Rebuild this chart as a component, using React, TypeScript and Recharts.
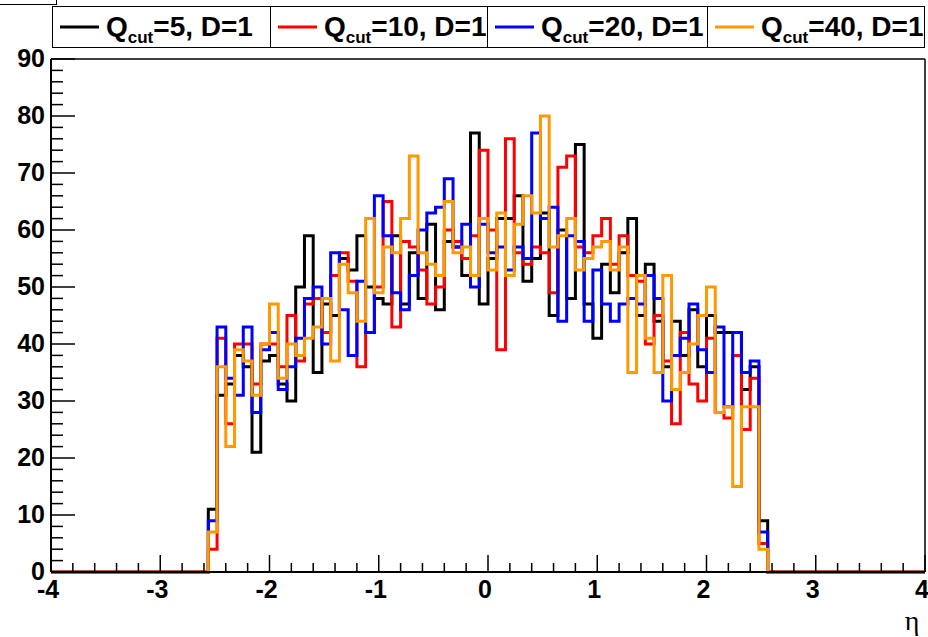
import { LineChart, Line, XAxis, YAxis, ReferenceLine } from "recharts"

// histogram binning: 64 filled bins of width 0.08 between -2.56 and 2.56
const binStart = -2.56
const binWidth = 0.08

const qcut5 = [
  11, 31, 33, 38, 36, 21, 37, 38, 33, 30, 50,
  59, 35, 47, 45, 55, 53, 59, 50, 48, 47, 59,
  47, 56, 48, 61, 46, 58, 57, 52, 77, 47, 55,
  62, 62, 66, 51, 55, 63, 45, 60, 48, 75, 47,
  41, 54, 49, 56, 62, 45, 54, 44, 36, 44, 38,
  46, 36, 45, 42, 42, 42, 32, 36, 9,
]
const qcut10 = [
  4, 41, 26, 40, 40, 33, 40, 40, 36, 45, 37,
  47, 48, 42, 52, 56, 51, 36, 42, 50, 65, 43,
  58, 57, 53, 47, 50, 60, 58, 55, 59, 74, 60,
  39, 76, 56, 54, 57, 56, 49, 71, 73, 57, 56,
  59, 62, 54, 59, 52, 51, 40, 45, 37, 26, 42,
  33, 30, 41, 28, 27, 38, 25, 34, 5,
]
const qcut20 = [
  9, 43, 34, 31, 43, 28, 39, 42, 32, 36, 41,
  48, 50, 40, 56, 46, 38, 51, 42, 66, 59, 49,
  46, 52, 60, 63, 64, 69, 57, 61, 50, 61, 56,
  57, 53, 57, 55, 77, 62, 64, 44, 59, 58, 44,
  53, 47, 44, 47, 48, 47, 52, 48, 30, 38, 41,
  47, 39, 35, 43, 29, 42, 35, 37, 7,
]
const qcut40 = [
  7, 36, 22, 39, 37, 31, 40, 47, 34, 40, 38,
  41, 43, 48, 37, 54, 49, 44, 62, 49, 57, 56,
  62, 73, 56, 54, 52, 65, 56, 57, 52, 62, 53,
  63, 52, 61, 66, 63, 80, 57, 59, 62, 53, 55,
  57, 58, 53, 57, 35, 52, 41, 35, 52, 32, 35,
  40, 45, 50, 28, 29, 15, 29, 29, 4,
]

const xTicks = Array.from({ length: 41 }, (_, i) => Math.round((-4 + i * 0.2) * 10) / 10)
const yTicks = Array.from({ length: 46 }, (_, i) => i * 2)

const series = [
  { key: "q5", text: "=5, D=1", color: "#000000", values: qcut5 },
  { key: "q10", text: "=10, D=1", color: "#ff0000", values: qcut10 },
  { key: "q20", text: "=20, D=1", color: "#0000ff", values: qcut20 },
  { key: "q40", text: "=40, D=1", color: "#ff9900", values: qcut40 },
]

const zeros = { q5: 0, q10: 0, q20: 0, q40: 0 }
const data = [
  { x: -4, ...zeros },
  ...qcut5.map((_, i) => ({
    x: Math.round((binStart + i * binWidth) * 100) / 100,
    q5: qcut5[i],
    q10: qcut10[i],
    q20: qcut20[i],
    q40: qcut40[i],
  })),
  { x: 2.56, ...zeros },
  { x: 4, ...zeros },
]

const font = "'Liberation Sans', Arial, sans-serif"

function YTick(props: any) {
  const { x, y, payload } = props
  const v = payload.value
  const major = v % 10 === 0
  return (
    <g>
      <line x1={x} x2={x + (major ? 24 : 12)} y1={y} y2={y} stroke="#000" strokeWidth={1.5} />
      {major && (
        <text x={x - 6} y={y + 8} textAnchor="end" fontFamily={font} fontWeight="bold" fontSize={25} fill="#000">
          {v}
        </text>
      )}
    </g>
  )
}

function XTick(props: any) {
  const { x, y, payload } = props
  const v = payload.value
  const major = Number.isInteger(v)
  return (
    <g>
      <line x1={x} x2={x} y1={y} y2={y - (major ? 17 : 9)} stroke="#000" strokeWidth={1.5} />
      {major && (
        <text x={x - 3} y={y + 26} textAnchor="middle" fontFamily={font} fontWeight="bold" fontSize={25} fill="#000">
          {v}
        </text>
      )}
    </g>
  )
}

const cellLefts = [52, 270, 487, 707]

export default function App() {
  return (
    <div style={{ position: "absolute", left: 0, top: 0, width: 928, height: 637, background: "#fff" }}>
      <LineChart width={928} height={637} data={data} margin={{ top: 59, right: 3, bottom: 0, left: 0 }}>
        <XAxis
          dataKey="x"
          type="number"
          domain={[-4, 4]}
          ticks={xTicks}
          interval={0}
          tickSize={0}
          tickMargin={0}
          tickLine={false}
          height={65}
          axisLine={{ stroke: "#000", strokeWidth: 2 }}
          tick={(p: any) => <XTick {...p} />}
        />
        <YAxis
          type="number"
          domain={[0, 90]}
          ticks={yTicks}
          interval={0}
          width={51}
          tickSize={0}
          tickMargin={0}
          tickLine={false}
          axisLine={{ stroke: "#000", strokeWidth: 2 }}
          tick={(p: any) => <YTick {...p} />}
        />
        <ReferenceLine y={90} stroke="#000" strokeWidth={1.5} />
        <ReferenceLine x={4} stroke="#000" strokeWidth={1.5} />
        {series.map((s) => (
          <Line
            key={s.key}
            type="stepAfter"
            dataKey={s.key}
            stroke={s.color}
            strokeWidth={3}
            dot={false}
            isAnimationActive={false}
          />
        ))}
      </LineChart>
      <svg width={928} height={637} style={{ position: "absolute", left: 0, top: 0, pointerEvents: "none" }}>
        <rect x={-1} y={-10} width={57.5} height={14.5} fill="none" stroke="#000" />
        <rect x={52.5} y={6.5} width={872} height={41} fill="#fff" stroke="#000" />
        {series.map((s, i) => {
          const left = cellLefts[i]
          return (
            <g key={s.key}>
              {i > 0 && <line x1={left + 0.5} x2={left + 0.5} y1={6.5} y2={47.5} stroke="#000" />}
              <line x1={left + 8} x2={left + 47} y1={27} y2={27} stroke={s.color} strokeWidth={3} />
              <text x={left + 54} y={36} fontFamily={font} fontWeight="bold" fontSize={28} fill="#000">
                <tspan>Q</tspan>
                <tspan fontSize={17} dy={7}>cut</tspan>
                <tspan dy={-7}>{s.text}</tspan>
              </text>
            </g>
          )
        })}
        <text x={912} y={630} textAnchor="middle" fontFamily="'Liberation Serif', serif" fontSize={28} fill="#000">
          η
        </text>
      </svg>
    </div>
  )
}
